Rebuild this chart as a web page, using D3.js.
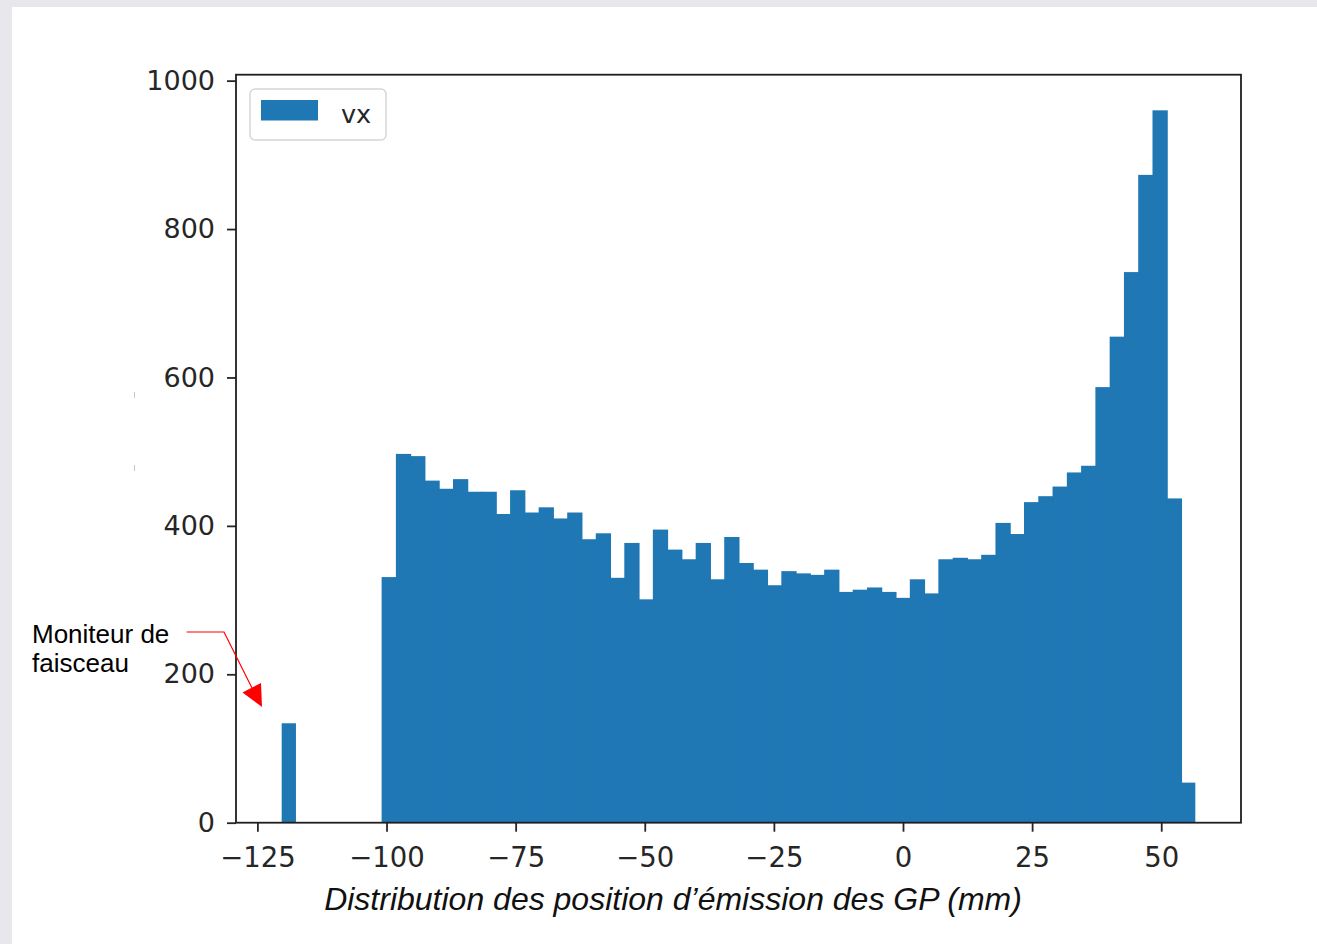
<!DOCTYPE html>
<html>
<head>
<meta charset="utf-8">
<script src="https://cdn.jsdelivr.net/npm/d3@7"></script>
<style>
  html, body { margin: 0; padding: 0; background: #e8e8ec; }
  svg { display: block; }
</style>
</head>
<body>
<svg id="chart" width="1317" height="944"></svg>
<script>
// Histogram of emission positions (64 equal bins between binLo and binHi)
const binLo = -120.3;
const binHi = 56.6;
const counts = [
  134, 0, 0, 0, 0, 0, 0,
  331, 497, 494, 461, 450, 463, 446, 446, 416, 448,
  418, 425, 410, 418, 382, 390, 330, 377, 301, 395,
  368, 355, 377, 328, 385, 350, 341, 320, 339, 336,
  334, 341, 311, 314, 317, 311, 303, 328, 309, 355,
  357, 355, 361, 404, 389, 432, 440, 453, 472, 481,
  587, 655, 742, 873, 960, 437, 54
];
const xTicks = [-125, -100, -75, -50, -25, 0, 25, 50];
const yTicks = [0, 200, 400, 600, 800, 1000];
const seriesName = "vx";
const xTitle = "Distribution des position d\u2019émission des GP (mm)";
const noteLines = ["Moniteur de", "faisceau"];

const svg = d3.select("#chart");
const barColor = "#1f77b4";

// white panel
svg.append("rect").attr("x", 12).attr("y", 7).attr("width", 1317 - 12).attr("height", 944 - 7).attr("fill", "#ffffff");

const plot = { left: 236, right: 1241, top: 74.7, bottom: 822.7 };
const nBins = counts.length;
const binW = (binHi - binLo) / nBins;
const bins = counts.map((c, i) => ({
  x0: binLo + i * binW,
  x1: binLo + (i + 1) * binW,
  n: c,
  joined: i + 1 < counts.length && counts[i + 1] > 0
}));

const span = binHi - binLo;
const x = d3.scaleLinear()
  .domain([binLo - 0.05 * span, binHi + 0.05 * span])
  .range([plot.left, plot.right]);
const y = d3.scaleLinear()
  .domain([0, d3.max(counts) * 1.05])
  .range([plot.bottom, plot.top]);

// bars (adjacent bars overlap slightly so no seams show)
svg.append("g").selectAll("rect")
  .data(bins.filter(b => b.n > 0))
  .join("rect")
  .attr("x", d => x(d.x0))
  .attr("y", d => y(d.n))
  .attr("width", d => x(d.x1) - x(d.x0) + (d.joined ? 1 : 0))
  .attr("height", d => y(0) - y(d.n))
  .attr("fill", barColor);

const tickFmt = d => d3.format("d")(d).replace("-", "\u2212");

// x axis
const gx = svg.append("g")
  .attr("transform", `translate(0,${plot.bottom})`)
  .call(d3.axisBottom(x).tickValues(xTicks).tickFormat(tickFmt).tickSize(9).tickPadding(16));
gx.select(".domain").remove();
gx.selectAll(".tick line").attr("stroke", "#262626").attr("stroke-width", 1.8);
gx.selectAll(".tick text")
  .attr("fill", "#262626")
  .style("font-family", "DejaVu Sans, sans-serif")
  .style("font-size", "27.5px");

// y axis
const gy = svg.append("g")
  .attr("transform", `translate(${plot.left},0)`)
  .call(d3.axisLeft(y).tickValues(yTicks).tickFormat(tickFmt).tickSize(9).tickPadding(12));
gy.select(".domain").remove();
gy.selectAll(".tick line").attr("stroke", "#262626").attr("stroke-width", 1.8);
gy.selectAll(".tick text")
  .attr("fill", "#262626")
  .style("font-family", "DejaVu Sans, sans-serif")
  .style("font-size", "27px");

// axes frame
svg.append("rect")
  .attr("x", plot.left).attr("y", plot.top)
  .attr("width", plot.right - plot.left).attr("height", plot.bottom - plot.top)
  .attr("fill", "none").attr("stroke", "#1e1e1e").attr("stroke-width", 1.8);

// legend
const lg = svg.append("g");
lg.append("rect")
  .attr("x", 250).attr("y", 89).attr("width", 136).attr("height", 51)
  .attr("rx", 5).attr("fill", "#ffffff").attr("stroke", "#d6d6d6").attr("stroke-width", 1.5);
lg.append("rect")
  .attr("x", 261).attr("y", 100).attr("width", 57).attr("height", 20.5)
  .attr("fill", barColor);
lg.append("text")
  .attr("x", 341).attr("y", 123)
  .attr("fill", "#262626")
  .style("font-family", "DejaVu Sans, sans-serif")
  .style("font-size", "25.5px")
  .text(seriesName);

// x axis title
svg.append("text")
  .attr("x", 673).attr("y", 910)
  .attr("text-anchor", "middle")
  .attr("fill", "#111")
  .style("font-family", "Liberation Sans, Arial, sans-serif")
  .style("font-style", "italic")
  .style("font-size", "32px")
  .text(xTitle);

// annotation pointing at the beam-monitor bin
const note = svg.append("text")
  .attr("fill", "#000")
  .style("font-family", "Liberation Sans, Arial, sans-serif")
  .style("font-size", "26px");
note.selectAll("tspan").data(noteLines).join("tspan")
  .attr("x", 32)
  .attr("y", (d, i) => 643 + i * 29)
  .text(d => d);

svg.append("path")
  .attr("d", "M186.5,632 L224,632 L253,690")
  .attr("fill", "none").attr("stroke", "#ff0000").attr("stroke-width", 1.2);
svg.append("path")
  .attr("d", "M242.5,692.5 L261,683 L262,707 Z")
  .attr("fill", "#ff0000");

// faint stray marks left of the y axis
svg.append("line").attr("x1", 134.5).attr("x2", 134.5).attr("y1", 392).attr("y2", 398)
  .attr("stroke", "#c8c8c8").attr("stroke-width", 1);
svg.append("line").attr("x1", 134.5).attr("x2", 134.5).attr("y1", 465).attr("y2", 471)
  .attr("stroke", "#c8c8c8").attr("stroke-width", 1);
</script>
</body>
</html>
